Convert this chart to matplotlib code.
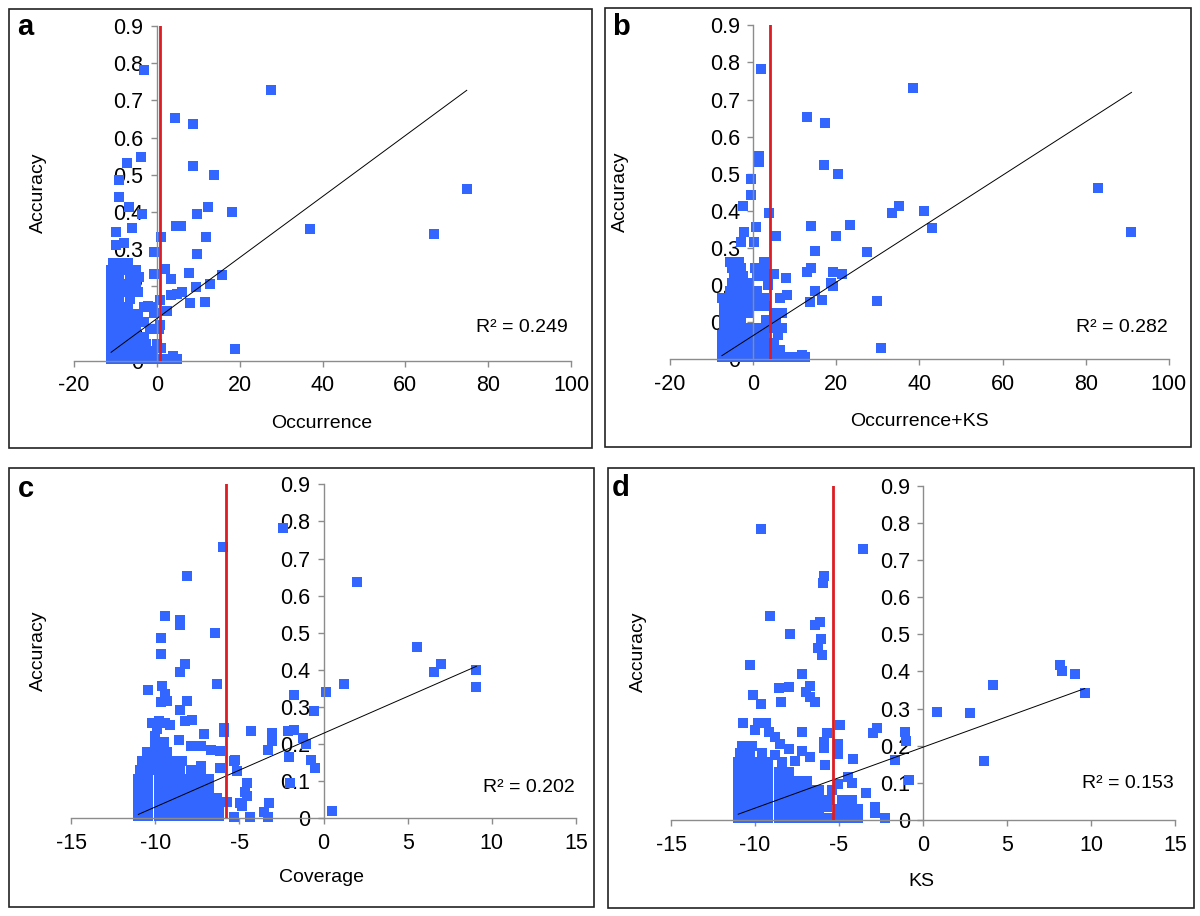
import matplotlib
matplotlib.use('Agg')
import matplotlib.pyplot as plt
import numpy as np
from matplotlib.patches import Rectangle

plt.rcParams['font.family'] = ['Liberation Sans', 'DejaVu Sans']
plt.rcParams['axes.unicode_minus'] = False

BLUE = '#3366ff'
RED = '#dd1c24'
GRAY = '#8c8c8c'

# ---- data ----
y_ticks = [0, 0.1, 0.2, 0.3, 0.4, 0.5, 0.6, 0.7, 0.8, 0.9]
y_ticklabels = ['0', '0.1', '0.2', '0.3', '0.4', '0.5', '0.6', '0.7', '0.8', '0.9']
x_ticks_ab = [-20, 0, 20, 40, 60, 80, 100]
x_ticks_cd = [-15, -10, -5, 0, 5, 10, 15]

# panel a : Occurrence
a_scatter = [(-3.1, 0.782), (27.5, 0.728), (4.4, 0.653), (8.7, 0.636), (-3.9, 0.548),
             (-7.1, 0.531), (-9.2, 0.486), (8.8, 0.524), (13.9, 0.499), (-9.1, 0.441),
             (-6.8, 0.414), (-3.5, 0.394), (12.3, 0.414), (18.1, 0.4), (9.7, 0.394),
             (74.8, 0.462), (37.0, 0.353), (67.0, 0.342), (4.6, 0.363), (5.8, 0.361),
             (-5.9, 0.356), (-9.7, 0.345), (11.9, 0.333), (1.0, 0.333), (-7.9, 0.317),
             (-9.8, 0.311), (-0.6, 0.291), (9.8, 0.287), (2.1, 0.247), (7.7, 0.237),
             (-0.6, 0.233), (3.4, 0.22), (15.8, 0.231), (12.8, 0.206), (9.5, 0.197),
             (6.1, 0.185), (5.0, 0.179), (3.4, 0.176), (0.9, 0.163), (8.0, 0.156),
             (11.6, 0.159), (-2.0, 0.147), (2.5, 0.134), (-0.6, 0.127), (0.9, 0.096),
             (1.1, 0.035), (18.8, 0.032), (3.9, 0.013)]
a_cluster = [(-11, 0.005), (-9, 0.005), (-7, 0.005), (-5, 0.005), (-3, 0.005), (-1, 0.005), (1, 0.005), (3, 0.005), (5, 0.005),
             (-11, 0.025), (-9, 0.025), (-7, 0.025), (-5, 0.025), (-3, 0.025), (-1, 0.025),
             (-11, 0.045), (-9, 0.045), (-7, 0.045), (-5, 0.045), (-2.5, 0.045), (0, 0.045),
             (-11, 0.065), (-9, 0.065), (-7, 0.065), (-5, 0.065), (-3, 0.065),
             (-11, 0.085), (-9, 0.085), (-7, 0.085), (-5, 0.085), (-1.5, 0.085), (0.5, 0.085),
             (-11, 0.105), (-9, 0.105), (-7, 0.105), (-5, 0.105), (-3, 0.105),
             (-11, 0.125), (-9, 0.125), (-7, 0.125), (-4.5, 0.125),
             (-11, 0.145), (-9, 0.145), (-7, 0.145), (-3, 0.145), (-1, 0.145),
             (-11, 0.165), (-9, 0.165), (-6.5, 0.165),
             (-11, 0.185), (-9, 0.185), (-7, 0.185), (-4.5, 0.185),
             (-11, 0.205), (-9, 0.205), (-7, 0.205), (-5, 0.205),
             (-11, 0.225), (-9, 0.225), (-6.5, 0.225), (-4.3, 0.225),
             (-11, 0.245), (-9, 0.245), (-7, 0.245), (-5, 0.245),
             (-10.5, 0.262), (-8.5, 0.262), (-7, 0.262)]

# panel b : Occurrence+KS
b_scatter = [(1.8, 0.783), (38.4, 0.73), (12.9, 0.654), (17.4, 0.636), (1.5, 0.548),
             (1.4, 0.531), (17.0, 0.524), (20.4, 0.5), (-0.6, 0.486), (-0.5, 0.442),
             (-2.5, 0.414), (3.9, 0.394), (83.0, 0.461), (35.1, 0.414), (33.4, 0.393),
             (41.0, 0.401), (43.1, 0.353), (91.0, 0.342), (14.0, 0.36), (23.2, 0.362),
             (0.7, 0.356), (-2.1, 0.344), (5.5, 0.332), (19.9, 0.332), (-2.8, 0.316),
             (0.1, 0.316), (14.8, 0.292), (27.3, 0.288), (12.9, 0.236), (13.9, 0.247),
             (19.2, 0.234), (21.4, 0.23), (7.9, 0.219), (18.7, 0.207), (19.1, 0.198),
             (15.0, 0.184), (8.1, 0.174), (13.6, 0.155), (16.5, 0.16), (29.8, 0.157),
             (30.7, 0.031), (5.1, 0.23), (3.5, 0.2), (11.7, 0.012), (5.1, 0.034)]
b_cluster = [(-7.5, 0.005), (-5.5, 0.005), (-3.5, 0.005), (-1.5, 0.005), (0.5, 0.005), (2.5, 0.005),
             (4.5, 0.005), (6.5, 0.005), (8.5, 0.005), (10.5, 0.005), (12.5, 0.005),
             (-7.5, 0.025), (-5.5, 0.025), (-3.5, 0.025), (-1.5, 0.025), (0.5, 0.025), (2.5, 0.025), (4.5, 0.025), (6.5, 0.025),
             (-7.5, 0.045), (-5.5, 0.045), (-3.5, 0.045), (-1.5, 0.045), (0.5, 0.045), (2.5, 0.045), (5, 0.045),
             (-7.5, 0.065), (-5.5, 0.065), (-3.5, 0.065), (-1.5, 0.065), (0.5, 0.065), (2.5, 0.065), (6, 0.065),
             (-7, 0.085), (-5, 0.085), (-3, 0.085), (-1, 0.085), (1, 0.085), (3, 0.085), (5, 0.085), (7, 0.085),
             (-7, 0.105), (-5, 0.105), (-3, 0.105), (3, 0.105), (5.5, 0.105),
             (-7, 0.125), (-5, 0.125), (-3, 0.125), (-1, 0.125), (5, 0.125), (7, 0.125),
             (-7, 0.145), (-5, 0.145), (-3, 0.145), (-1, 0.145), (1, 0.145), (3, 0.145),
             (-7.5, 0.165), (-5.5, 0.165), (-3.5, 0.165), (-1.5, 0.165), (0.5, 0.165), (2.5, 0.165), (6.5, 0.165),
             (-5.5, 0.185), (-3.5, 0.185), (-1.5, 0.185), (1, 0.185),
             (-5, 0.205), (-3, 0.205), (-1, 0.205), (3.5, 0.205),
             (-4.5, 0.225), (-2.5, 0.225), (1, 0.225), (3, 0.225),
             (-5, 0.245), (-3, 0.245), (0.5, 0.245), (2.5, 0.245),
             (-5.5, 0.262), (-3.5, 0.262), (2.5, 0.262)]

# panel c : Coverage
c_scatter = [(-2.42, 0.783), (-5.97, 0.73), (-8.14, 0.654), (2.01, 0.636), (-9.44, 0.546),
             (-8.53, 0.533), (-8.53, 0.52), (-6.45, 0.5), (-9.67, 0.485), (-9.63, 0.442),
             (5.56, 0.462), (6.97, 0.415), (6.56, 0.393), (9.08, 0.4), (9.03, 0.353),
             (-8.23, 0.415), (-8.53, 0.394), (-6.31, 0.363), (1.21, 0.361), (0.16, 0.341),
             (-1.74, 0.332), (-10.4, 0.345), (-9.6, 0.356), (-9.44, 0.334), (-9.28, 0.316),
             (-9.63, 0.313), (-8.14, 0.316), (-8.53, 0.291), (-0.57, 0.288), (-4.3, 0.234),
             (-3.09, 0.231), (-3.04, 0.207), (-3.27, 0.185), (-2.13, 0.234), (-1.78, 0.239),
             (-1.21, 0.217), (-1.03, 0.2), (-2.06, 0.164), (-0.75, 0.158), (-0.53, 0.135),
             (-5.28, 0.157), (-5.15, 0.128), (-5.9, 0.244), (-5.94, 0.232), (-6.13, 0.18),
             (-6.15, 0.135), (-1.99, 0.094), (-4.53, 0.094), (-4.64, 0.072), (-4.53, 0.061),
             (-4.99, 0.04), (-4.83, 0.034), (-3.22, 0.042), (-3.54, 0.018), (-3.27, 0.004),
             (-4.37, 0.003), (-5.33, 0.003), (0.48, 0.02), (-5.72, 0.045),
             (-10.2, 0.258), (-9.8, 0.262), (-9.4, 0.258), (-9.1, 0.25), (-8.2, 0.262),
             (-7.8, 0.265), (-7.1, 0.228), (-10.0, 0.223), (-9.5, 0.205), (-8.6, 0.21),
             (-7.9, 0.196), (-7.3, 0.196), (-6.7, 0.183), (-5.3, 0.154), (-7.3, 0.142),
             (-7.0, 0.102), (-9.9, 0.24), (-10.0, 0.198)]
c_cluster = [(-11, 0.005), (-10.4, 0.005), (-9.8, 0.005), (-9.2, 0.005), (-8.6, 0.005), (-8, 0.005), (-7.4, 0.005), (-6.8, 0.005), (-6.2, 0.005),
             (-11, 0.03), (-10.4, 0.03), (-9.8, 0.03), (-9.2, 0.03), (-8.6, 0.03), (-8, 0.03), (-7.4, 0.03), (-6.8, 0.03), (-6.2, 0.03),
             (-11, 0.055), (-10.4, 0.055), (-9.8, 0.055), (-9.2, 0.055), (-8.6, 0.055), (-8, 0.055), (-7.4, 0.055), (-6.8, 0.055), (-6.3, 0.055),
             (-11, 0.08), (-10.4, 0.08), (-9.8, 0.08), (-9.2, 0.08), (-8.6, 0.08), (-8, 0.08), (-7.4, 0.08), (-6.8, 0.08),
             (-11, 0.105), (-10.4, 0.105), (-9.8, 0.105), (-9.2, 0.105), (-8.6, 0.105), (-8, 0.105), (-7.4, 0.105), (-6.8, 0.105),
             (-10.9, 0.13), (-10.3, 0.13), (-9.7, 0.13), (-9.1, 0.13), (-8.5, 0.13), (-7.9, 0.13), (-7.3, 0.13),
             (-10.8, 0.155), (-10.2, 0.155), (-9.6, 0.155), (-9.0, 0.155), (-8.4, 0.155),
             (-10.5, 0.178), (-9.9, 0.178), (-9.3, 0.178)]

# panel d : KS
d_scatter = [(-9.66, 0.784), (-3.6, 0.729), (-5.9, 0.657), (-5.95, 0.637), (-9.1, 0.548),
             (-6.14, 0.534), (-6.41, 0.525), (-7.92, 0.5), (-6.07, 0.487), (-6.23, 0.464),
             (-6.0, 0.443), (-10.28, 0.416), (8.15, 0.416), (8.29, 0.401), (9.02, 0.394),
             (-7.19, 0.393), (4.17, 0.363), (9.62, 0.343), (-8.6, 0.355), (-8.0, 0.357),
             (-6.7, 0.361), (-6.96, 0.345), (-6.7, 0.332), (-6.43, 0.318), (-10.1, 0.336),
             (-9.66, 0.312), (-8.47, 0.317), (0.82, 0.292), (2.82, 0.287), (3.6, 0.159),
             (-4.92, 0.256), (-2.75, 0.249), (-2.98, 0.233), (-1.1, 0.236), (-1.0, 0.213),
             (-5.73, 0.233), (-7.18, 0.238), (-5.9, 0.21), (-5.9, 0.194), (-5.04, 0.204),
             (-5.04, 0.178), (-4.19, 0.163), (-1.67, 0.162), (-5.83, 0.148), (-4.45, 0.117),
             (-4.24, 0.099), (-5.04, 0.097), (-0.85, 0.108), (-3.4, 0.074), (-2.86, 0.036),
             (-2.86, 0.018), (-2.26, 0.005), (-10.7, 0.262), (-9.85, 0.262), (-9.35, 0.262),
             (-10.0, 0.242), (-9.15, 0.238), (-8.8, 0.224), (-8.5, 0.205), (-8.0, 0.19),
             (-7.6, 0.16), (-8.8, 0.175), (-7.2, 0.186), (-6.7, 0.17), (-5.73, 0.036)]
d_cluster = [(-11, 0.005), (-10.4, 0.005), (-9.8, 0.005), (-9.2, 0.005), (-8.6, 0.005), (-8, 0.005), (-7.4, 0.005),
             (-6.8, 0.005), (-6.2, 0.005), (-5.6, 0.005), (-5, 0.005), (-4.4, 0.005), (-3.9, 0.005),
             (-11, 0.03), (-10.4, 0.03), (-9.8, 0.03), (-9.2, 0.03), (-8.6, 0.03), (-8, 0.03), (-7.4, 0.03),
             (-6.8, 0.03), (-6.2, 0.03), (-5.0, 0.03), (-4.4, 0.03), (-3.9, 0.03),
             (-11, 0.055), (-10.4, 0.055), (-9.8, 0.055), (-9.2, 0.055), (-8.6, 0.055), (-8, 0.055), (-7.4, 0.055),
             (-6.8, 0.055), (-6.2, 0.055), (-5.6, 0.055), (-4.8, 0.055), (-4.2, 0.055),
             (-11, 0.08), (-10.4, 0.08), (-9.8, 0.08), (-9.2, 0.08), (-8.6, 0.08), (-8, 0.08), (-7.4, 0.08),
             (-6.8, 0.08), (-6.2, 0.08), (-5.4, 0.08),
             (-11, 0.105), (-10.4, 0.105), (-9.8, 0.105), (-9.2, 0.105), (-8.6, 0.105), (-8, 0.105), (-7.4, 0.105), (-6.9, 0.105),
             (-11, 0.13), (-10.4, 0.13), (-9.8, 0.13), (-9.2, 0.13), (-8.6, 0.13), (-8.0, 0.13),
             (-11, 0.155), (-10.4, 0.155), (-9.8, 0.155), (-9.2, 0.155), (-8.4, 0.155),
             (-10.9, 0.18), (-10.3, 0.18), (-9.6, 0.18),
             (-10.8, 0.2), (-10.2, 0.2)]

# cut-off (red line), trend line slope / intercept, R^2
cutoffs = [0.8, 4.16, -5.79, -5.34]
slopes = [0.00821, 0.0072, 0.01987, 0.0164]
intercepts = [0.113, 0.064, 0.229, 0.196]
r2_labels = ['R\u00b2 = 0.249', 'R\u00b2 = 0.282', 'R\u00b2 = 0.202', 'R\u00b2 = 0.153']
x_names = ['Occurrence', 'Occurrence+KS', 'Coverage', 'KS']
letters = ['a', 'b', 'c', 'd']

# ---- layout (figure fractions) ----
axes_pos = [[0.0615, 0.6062, 0.4145, 0.3654],
            [0.5583, 0.6077, 0.4158, 0.3647],
            [0.0592, 0.1067, 0.4208, 0.3646],
            [0.5592, 0.1048, 0.4200, 0.3650]]
box_pos = [[0.0071, 0.5109, 0.4863, 0.4789],
           [0.5038, 0.5123, 0.4887, 0.4786],
           [0.0071, 0.0102, 0.4879, 0.4793],
           [0.5064, 0.0091, 0.4886, 0.4797]]
# pixel centres of panel texts: letter, ylabel, xlabel, R2
text_px = [[(25, 27), (38, 193), (322, 423), (522, 328)],
           [(621, 27), (620, 192), (919, 422), (1122, 328)],
           [(26, 489), (38.5, 651), (321, 877), (529, 787)],
           [(621, 488), (638, 652), (921, 882), (1128, 783)]]

W, H = 1200, 916
fig = plt.figure(figsize=(12, 9.16), dpi=100)


def fx(p):
    return p[0] / W, 1 - p[1] / H


panels = [(a_scatter, a_cluster, x_ticks_ab),
          (b_scatter, b_cluster, x_ticks_ab),
          (c_scatter, c_cluster, x_ticks_cd),
          (d_scatter, d_cluster, x_ticks_cd)]

for i, (sc, cl, xt) in enumerate(panels):
    ax = fig.add_axes(axes_pos[i])
    pts = np.array(sc + cl)
    xs, ys = pts[:, 0], pts[:, 1]
    ax.scatter(xs, ys, marker='s', s=58, c=BLUE, linewidths=0, clip_on=False, zorder=2)

    # trend line over data range
    xr = np.array([xs.min(), xs.max()])
    ax.plot(xr, slopes[i] * xr + intercepts[i], color='black', lw=0.7, zorder=3)
    # cut-off
    ax.axvline(cutoffs[i], ymin=0, ymax=1, color=RED, lw=2, zorder=4)

    ax.set_xlim(xt[0], xt[-1])
    ax.set_ylim(0, 0.9)
    ax.set_xticks(xt)
    ax.set_xticklabels([str(v) for v in xt])
    ax.set_yticks(y_ticks)
    ax.set_yticklabels(y_ticklabels)
    ax.patch.set_visible(False)
    for s in ['top', 'right']:
        ax.spines[s].set_visible(False)
    ax.spines['left'].set_position(('data', 0))
    ax.spines['bottom'].set_position(('data', 0))
    for s in ['left', 'bottom']:
        ax.spines[s].set_color(GRAY)
        ax.spines[s].set_linewidth(1)
    ax.tick_params(axis='both', direction='out', length=4.5, width=1, color=GRAY,
                   labelsize=15.5, labelcolor='black')
    ax.tick_params(axis='y', pad=5)
    ax.tick_params(axis='x', pad=6)

    # panel box
    fig.add_artist(Rectangle((box_pos[i][0], box_pos[i][1]), box_pos[i][2], box_pos[i][3],
                             transform=fig.transFigure, fill=False, edgecolor='#222222', lw=1.2))
    lp, yp, xp, rp = text_px[i]
    fig.text(*fx(lp), letters[i], fontsize=21, fontweight='bold', ha='center', va='center')
    fig.text(*fx(yp), 'Accuracy', fontsize=14, rotation=90, ha='center', va='center')
    fig.text(*fx(xp), x_names[i], fontsize=14, ha='center', va='center')
    fig.text(*fx(rp), r2_labels[i], fontsize=14, ha='center', va='center')

fig.savefig('out.png', dpi=100)
